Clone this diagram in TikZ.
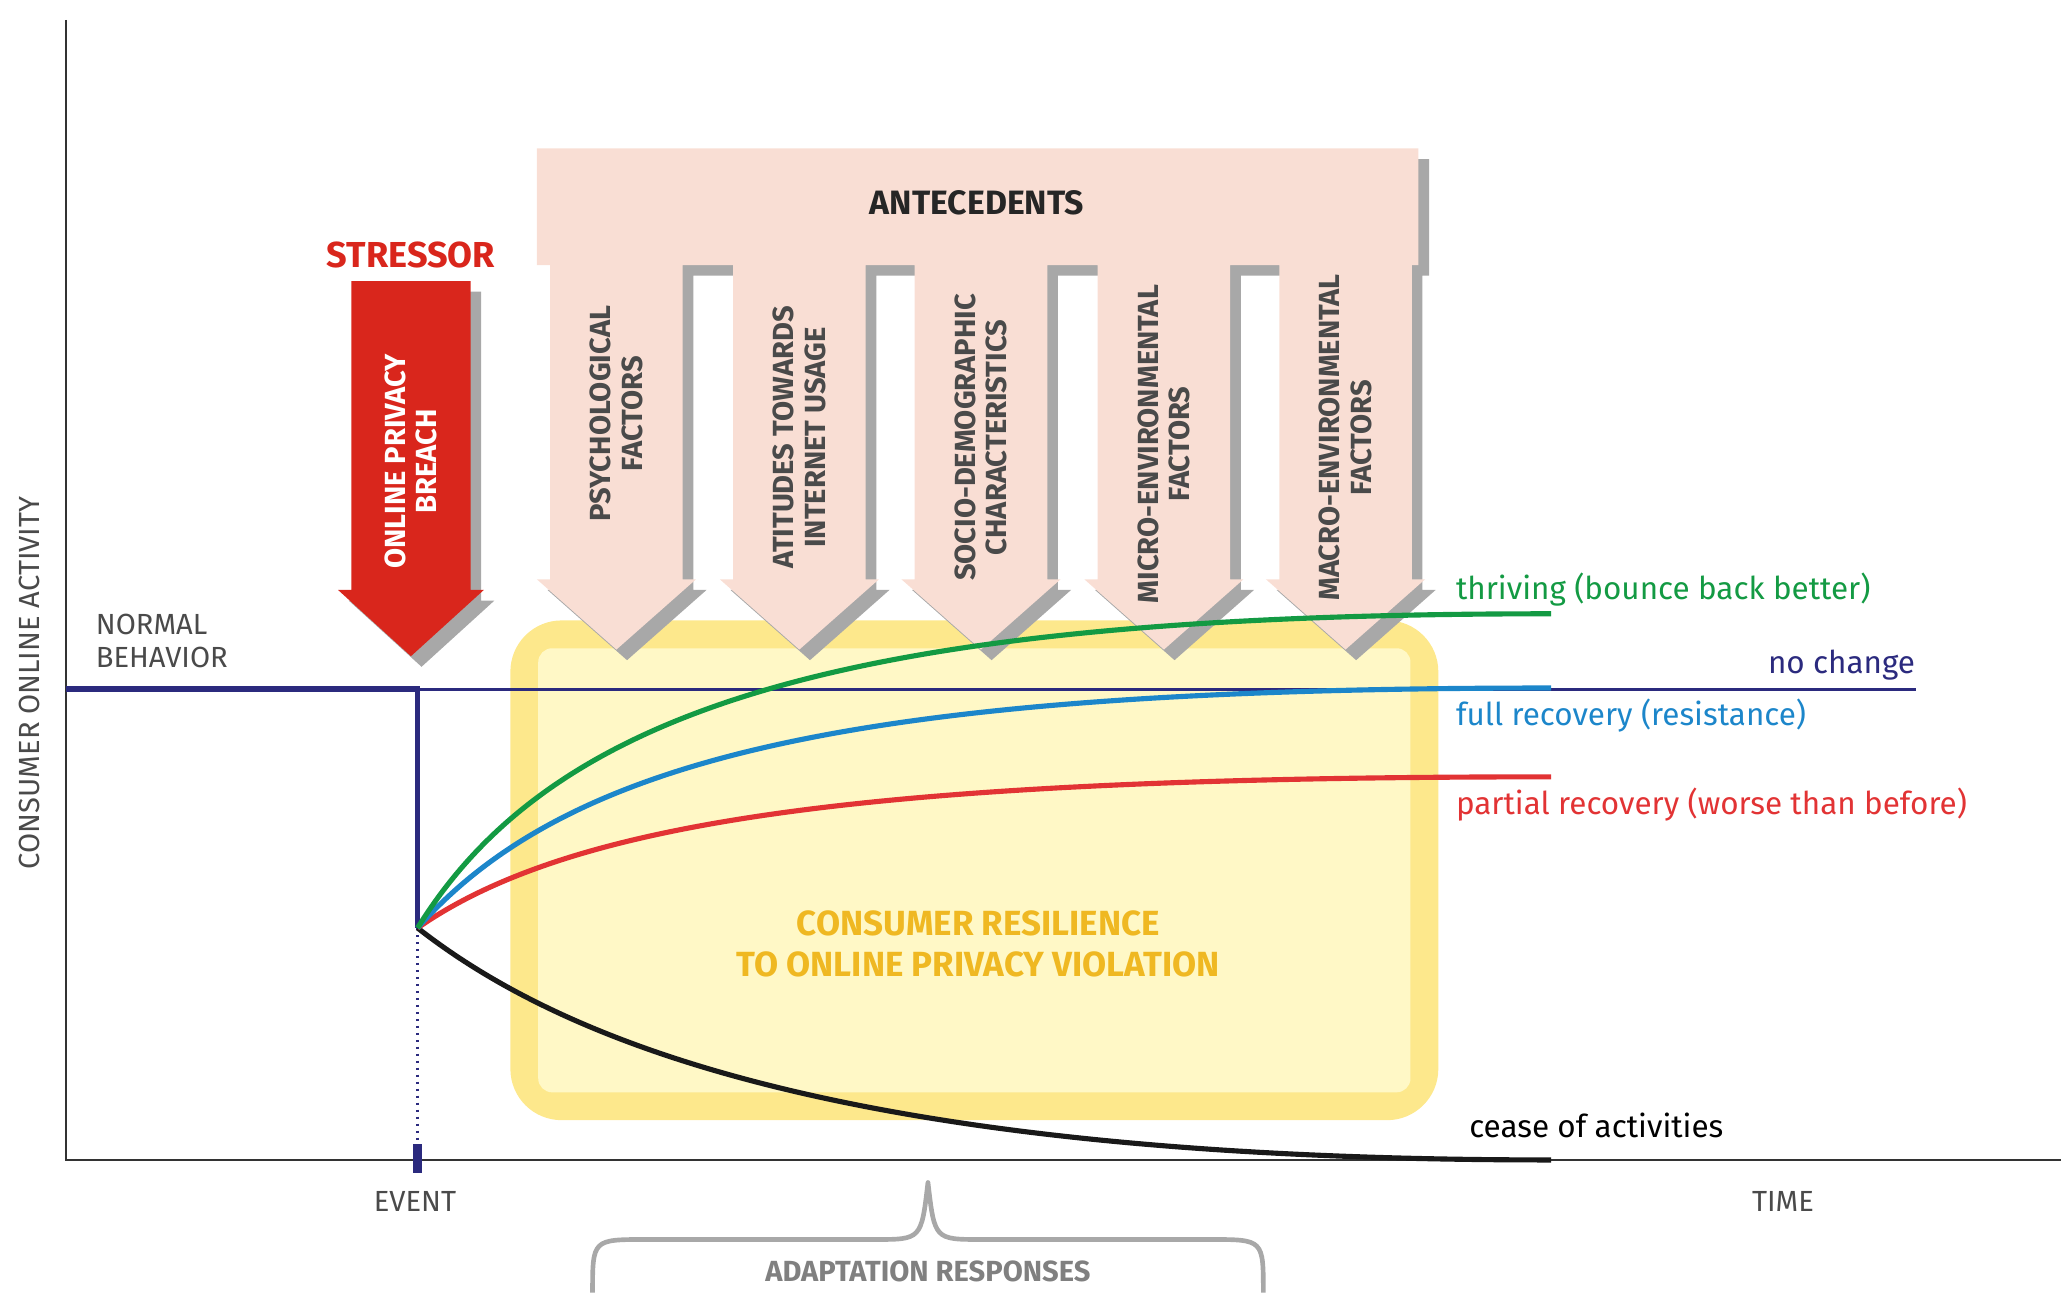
\documentclass[tikz,border=0pt]{standalone}
\usepackage{fontspec}
\setmainfont{Fira Sans}
\definecolor{navy}{HTML}{2B2A7E}
\definecolor{cgreen}{HTML}{139A43}
\definecolor{cblue}{HTML}{1C86CA}
\definecolor{cred}{HTML}{E23334}
\definecolor{sred}{HTML}{D9261C}
\definecolor{ybord}{HTML}{FDE88C}
\definecolor{yin}{HTML}{FFF8C6}
\definecolor{gold}{HTML}{EFB822}
\definecolor{pink}{HTML}{F9DED4}
\definecolor{shad}{HTML}{A8A8A8}
\definecolor{txt}{HTML}{4A4A4A}
\begin{document}
\begin{tikzpicture}[x=0.02cm,y=-0.02cm,
 lab/.style={font=\fontsize{13.5}{15}\selectfont,anchor=west,inner sep=0},
 small/.style={font=\fontsize{12.5}{14}\selectfont,text=txt,inner sep=0},
 arrtxt/.style={font=\bfseries\fontsize{12.5}{13.5}\selectfont,text=txt,rotate=90,align=center,inner sep=0},
 curve/.style={line width=2.2pt}]
\useasboundingbox (0,0) rectangle (1560,985);
% axes
\draw[line width=1pt,black!80] (50,15) -- (50,875) -- (1555,875);
\node[small,rotate=90] (ylab) at (22,515) {CONSUMER ONLINE ACTIVITY};
\node[small,align=left,anchor=north west] (nb) at (72,463) {NORMAL\\BEHAVIOR};
\node[small] (ev) at (313,906) {EVENT};
\node[small] (tm) at (1345,906) {TIME};
% yellow box
\draw[rounded corners=22pt,fill=ybord,draw=none] (385,468) rectangle (1085,845);
\fill[yin,rounded corners=6pt] (406,489) rectangle (1064,824);
\node[font=\bfseries\fontsize{15}{18}\selectfont,text=gold,align=center] (res) at (738,712) {CONSUMER RESILIENCE\\TO ONLINE PRIVACY VIOLATION};
% antecedent shape
\fill[shad] ([shift={(8,8)}]405,112) -- ([shift={(8,8)}]1070,112) -- ([shift={(8,8)}]1070,200)
  \foreach \c in {1015,878,740,603,465}{ -- (\c+58,208) -- (\c+58,445) -- (\c+68,445) -- (\c+8,498) -- (\c-52,445) -- (\c-42,445) -- (\c-42,208)} -- cycle;
\fill[pink] (405,112) -- (1070,112) -- (1070,200)
  \foreach \c in {1015,878,740,603,465}{ -- (\c+50,200) -- (\c+50,437) -- (\c+60,437) -- (\c,490) -- (\c-60,437) -- (\c-50,437) -- (\c-50,200)} -- (405,200) -- cycle;
\node[font=\bfseries\fontsize{14.5}{16}\selectfont,text=black!85] (ant) at (737,153) {ANTECEDENTS};
\node[arrtxt] (a1) at (465,312) {PSYCHOLOGICAL\\FACTORS};
\node[arrtxt] (a2) at (603,330) {ATITUDES TOWARDS\\INTERNET USAGE};
\node[arrtxt] (a3) at (740,330) {SOCIO-DEMOGRAPHIC\\CHARACTERISTICS};
\node[arrtxt] (a4) at (878,335) {MICRO-ENVIRONMENTAL\\FACTORS};
\node[arrtxt] (a5) at (1015,330) {MACRO-ENVIRONMENTAL\\FACTORS};
% stressor
\node[font=\bfseries\fontsize{15.5}{17}\selectfont,text=sred] (st) at (310,192) {STRESSOR};
\fill[shad,shift={(8,8)}] (265,212) -- (355,212) -- (355,445) -- (365,445) -- (310,495) -- (255,445) -- (265,445) -- cycle;
\fill[sred] (265,212) -- (355,212) -- (355,445) -- (365,445) -- (310,495) -- (255,445) -- (265,445) -- cycle;
\node[arrtxt,text=white] (br) at (310,348) {ONLINE PRIVACY\\BREACH};
% navy lines
\coordinate (o) at (50,520);
\coordinate (ev0) at (315,520);
\coordinate (d) at (315,700);
\coordinate (nc) at (1445,520);
\draw[navy,line width=1pt] (o) -- (nc);
\draw[navy,line width=2.5pt] (o) -- (ev0) -- (d);
\draw[navy,dotted,line width=1pt] (d) -- (315,865);
\draw[navy,line width=4pt] (315,863) -- (315,885);
% curves
\draw[curve,black!90] (d) .. controls (430,790) and (650,875) .. (1170,875);
\draw[curve,cred] (d) .. controls (430,620) and (650,586) .. (1170,586);
\draw[curve,cblue] (d) .. controls (430,570) and (650,519) .. (1170,519);
\draw[curve,cgreen] (d) .. controls (420,530) and (650,463) .. (1170,463);
% labels
\node[lab,text=cgreen] (l1) at (1098,445) {thriving (bounce back better)};
\node[lab,text=navy,anchor=east] (l2) at (1445,502) {no change};
\node[lab,text=cblue] (l3) at (1098,540) {full recovery (resistance)};
\node[lab,text=cred] (l4) at (1098,607) {partial recovery (worse than before)};
\node[lab,text=black] (l5) at (1108,849) {cease of activities};
% brace
\draw[shad,line width=2pt,line join=round] (447,975) .. controls (447,935) .. (487,935) -- (660,935) .. controls (695,935) .. (700,892)
  .. controls (705,935) .. (740,935) -- (913,935) .. controls (953,935) .. (953,975);
\node[font=\bfseries\fontsize{12.5}{14}\selectfont,text=gray] (ad) at (700,959) {ADAPTATION RESPONSES};
\end{tikzpicture}
\end{document}
